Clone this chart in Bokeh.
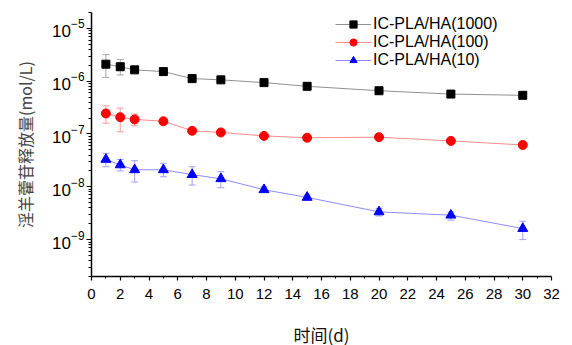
from bokeh.plotting import figure
from bokeh.models import Range1d, ColumnDataSource, Whisker, TeeHead, FixedTicker, LogTicker, Legend, LegendItem
from bokeh.embed import file_html
from bokeh.resources import INLINE

# time (days)
days = [1, 2, 3, 5, 7, 9, 12, 15, 20, 25, 30]

# IC-PLA/HA(1000)
s1000 = [2.1e-6, 1.88e-6, 1.64e-6, 1.52e-6, 1.12e-6, 1.06e-6, 9.4e-7, 8.0e-7, 6.6e-7, 5.7e-7, 5.4e-7]
s1000_hi = [3.19e-6, 2.57e-6, 1.75e-6, 1.6e-6, 1.18e-6, 1.12e-6, 9.9e-7, 8.4e-7, 7.0e-7, 5.9e-7, 5.6e-7]
s1000_lo = [1.18e-6, 1.31e-6, 1.57e-6, 1.46e-6, 1.08e-6, 1.02e-6, 9.1e-7, 7.8e-7, 6.4e-7, 5.5e-7, 5.2e-7]

# IC-PLA/HA(100)
s100 = [2.45e-7, 2.08e-7, 1.89e-7, 1.74e-7, 1.15e-7, 1.07e-7, 9.2e-8, 8.5e-8, 8.7e-8, 7.4e-8, 6.2e-8]
s100_hi = [3.42e-7, 3.09e-7, 2.38e-7, 1.84e-7, 1.21e-7, 1.13e-7, 9.7e-8, 8.9e-8, 9.2e-8, 7.8e-8, 6.5e-8]
s100_lo = [1.60e-7, 1.10e-7, 1.43e-7, 1.66e-7, 1.11e-7, 1.03e-7, 8.9e-8, 8.2e-8, 8.4e-8, 7.0e-8, 5.9e-8]

# IC-PLA/HA(10)
s10 = [3.3e-8, 2.6e-8, 2.1e-8, 2.1e-8, 1.7e-8, 1.42e-8, 8.8e-9, 6.3e-9, 3.35e-9, 2.9e-9, 1.62e-9]
s10_hi = [4.3e-8, 3.3e-8, 3.12e-8, 2.79e-8, 2.4e-8, 1.93e-8, 1.0e-8, 7.0e-9, 3.9e-9, 3.3e-9, 2.23e-9]
s10_lo = [2.4e-8, 2.0e-8, 1.23e-8, 1.55e-8, 1.08e-8, 9.6e-9, 7.9e-9, 5.7e-9, 2.8e-9, 2.33e-9, 1.0e-9]

x_ticks = list(range(0, 33, 2))
x_minor = list(range(1, 33, 2))

FONT = "Liberation Sans"
CJK = "Noto Sans CJK SC"

p = figure(width=572, height=345, y_axis_type="log", output_backend="svg", toolbar_location=None,
           x_range=Range1d(0, 32), y_range=Range1d(2e-10, 2e-5),
           min_border_left=91, min_border_right=21, min_border_top=12, min_border_bottom=69,
           frame_width=460, frame_height=264)
p.outline_line_color = None
p.grid.grid_line_color = None
p.background_fill_color = "white"
p.border_fill_color = "white"

series = [
    ("IC-PLA/HA(1000)", s1000, s1000_hi, s1000_lo, "black", "#909090", "#a8a8a8", "square", 8),
    ("IC-PLA/HA(100)", s100, s100_hi, s100_lo, "red", "#ff8a8a", "#ff9a9a", "circle", 9),
    ("IC-PLA/HA(10)", s10, s10_hi, s10_lo, "blue", "#8c8cff", "#a0a0ff", "triangle", 10),
]

items = []
for name, vals, hi, lo, mcol, lcol, ecol, marker, size in series:
    src = ColumnDataSource(dict(x=days, y=vals, upper=hi, lower=lo))
    w = Whisker(base="x", upper="upper", lower="lower", source=src, line_color=ecol, line_width=1,
                upper_head=TeeHead(size=7, line_color=ecol, line_width=1),
                lower_head=TeeHead(size=7, line_color=ecol, line_width=1))
    p.add_layout(w)
    r_line = p.line("x", "y", source=src, line_color=lcol, line_width=1)
    r_mark = p.scatter("x", "y", source=src, marker=marker, size=size, fill_color=mcol, line_color=mcol)
    items.append(LegendItem(label=name, renderers=[r_line, r_mark]))

legend = Legend(items=items, location=(244, 207), padding=0, margin=0, spacing=0,
                glyph_width=36, glyph_height=18, label_height=18, label_standoff=2,
                label_text_font=FONT, label_text_font_size="16px", label_text_color="black",
                border_line_color=None, background_fill_alpha=0)
p.add_layout(legend, "center")

# axes
p.xaxis.ticker = FixedTicker(ticks=x_ticks, minor_ticks=x_minor)
p.yaxis.ticker = LogTicker(num_minor_ticks=10)
for ax in (p.xaxis, p.yaxis):
    ax.axis_line_color = "black"
    ax.axis_line_width = 1.5
    ax.major_tick_line_color = "black"
    ax.minor_tick_line_color = "black"
    ax.major_tick_line_width = 1.2
    ax.minor_tick_line_width = 1
    ax.major_tick_in = 0
    ax.minor_tick_in = 0
    ax.major_label_text_font = FONT
    ax.major_label_text_color = "black"
    ax.axis_label_text_font_style = "normal"
    ax.axis_label_text_font = CJK

p.xaxis.major_tick_out = 4
p.xaxis.minor_tick_out = 2
p.xaxis.major_label_text_font_size = "15px"
p.xaxis.major_label_standoff = 8
p.xaxis.axis_label = "时间(d)"
p.xaxis.axis_label_text_font_size = "17px"
p.xaxis.axis_label_text_color = "#111111"
p.xaxis.axis_label_standoff = 20

p.yaxis.major_tick_out = 5
p.yaxis.minor_tick_out = 3
p.yaxis.major_label_text_font_size = "17px"
p.yaxis.major_label_standoff = 2
p.yaxis.axis_label = "淫羊藿苷释放量(mol/L)"
p.yaxis.axis_label_text_font_size = "16px"
p.yaxis.axis_label_text_color = "#444444"
p.yaxis.axis_label_standoff = 12

open("out.html", "w").write(file_html(p, INLINE))
